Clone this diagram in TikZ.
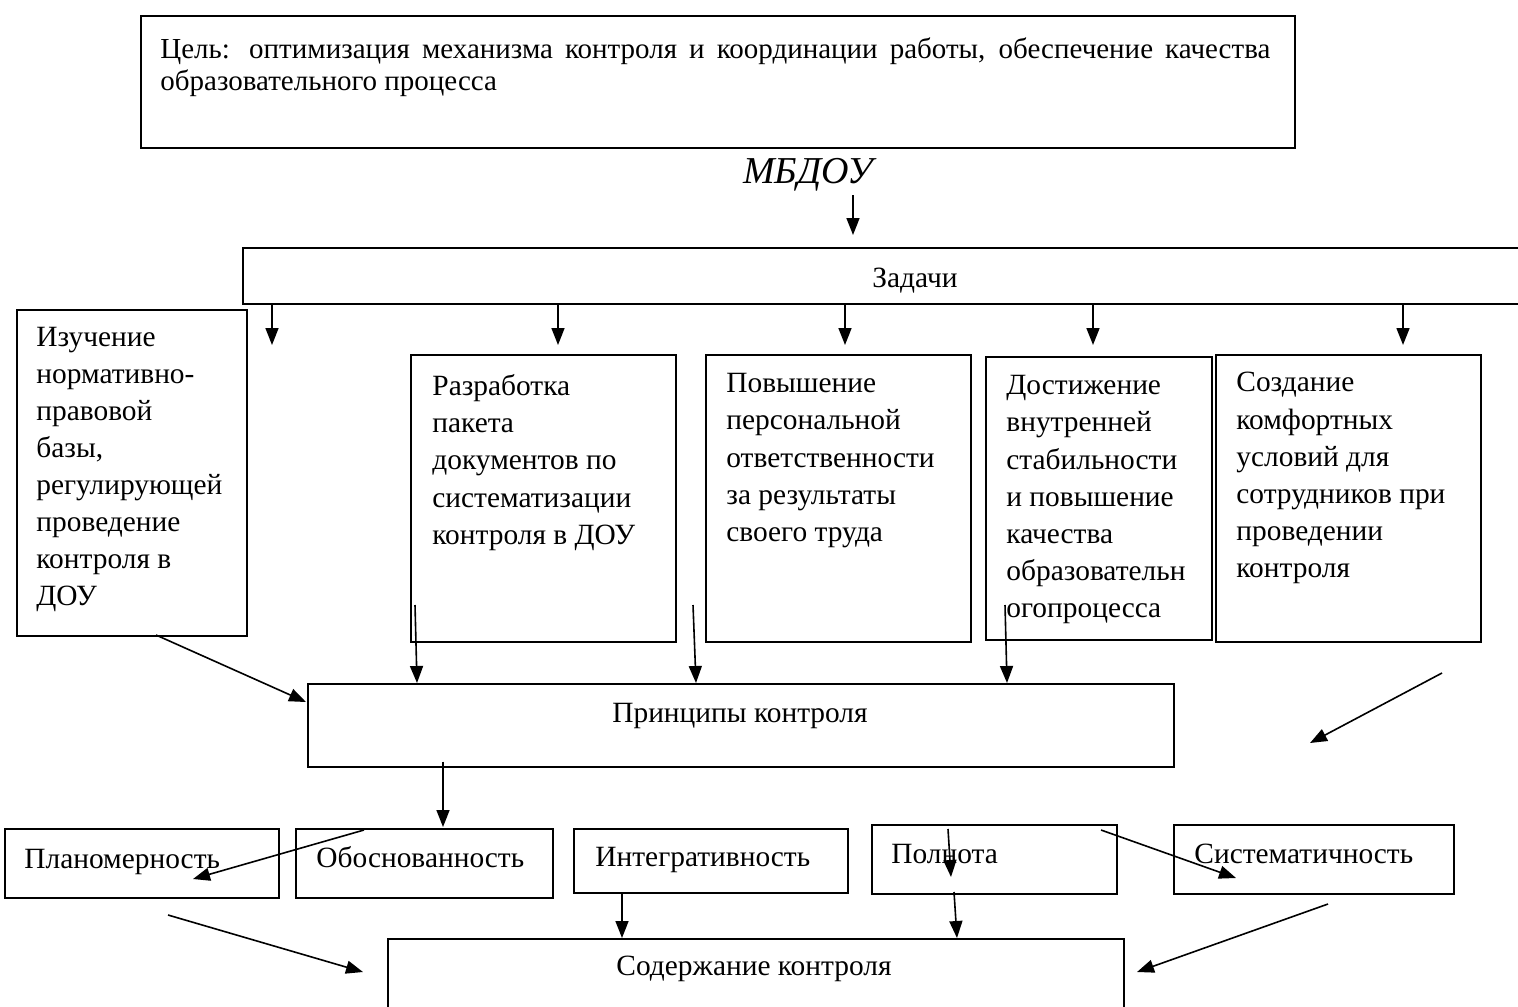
\documentclass[tikz,border=0pt]{standalone}
\usepackage{fontspec}
\setmainfont{Liberation Serif}
\usetikzlibrary{arrows.meta}
\newcommand\mybox[5]{\node[box,minimum width=#4*0.5pt,minimum height=#5*0.5pt] (#1) at (#2,#3) {};}
\begin{document}
\begin{tikzpicture}[x=0.5pt,y=-0.5pt,
  box/.style={draw,line width=0.8pt,inner sep=0pt,anchor=north west},
  txt/.style={inner sep=0pt,anchor=north west,align=left,font=\fontsize{14.7}{18.6}\selectfont},
  one/.style={inner sep=0pt,anchor=base west,font=\fontsize{14.7}{17}\selectfont},
  lbl/.style={inner sep=0pt,anchor=base,font=\fontsize{14.7}{17}\selectfont},
  arr/.style={line width=0.8pt,-{Triangle[length=8.5pt,width=6.5pt]}}]
\useasboundingbox (0,0) rectangle (1518,1006);
\clip (0,0) rectangle (1518,1006);
\fill[white] (0,0) rectangle (1518,1006);
% goal
\mybox{goal}{140}{15}{1154}{132}
\node[inner sep=0pt,anchor=north west,text width=555pt,align=justify,
  font=\fontsize{14.5}{16.3}\selectfont] (goalt) at (160,37)
  {Цель: оптимизация механизма контроля и координации работы, обеспечение качества образовательного процесса};
% MBDOU
\node[inner sep=0pt,anchor=base,font=\fontsize{19}{21}\selectfont\itshape] (mbdou) at (808,183) {МБДОУ};
\coordinate (m1) at (853,195);
\coordinate (m2) at (853,235);
\draw[arr] (m1) -- (m2);
% tasks
\mybox{zad}{242}{247}{1320}{56}
\node[lbl] (zadt) at (915,287) {Задачи};
\coordinate (a1) at (272,345);
\coordinate (a2) at (558,345);
\coordinate (a3) at (845,345);
\coordinate (a4) at (1093,345);
\coordinate (a5) at (1403,345);
\foreach \c in {a1,a2,a3,a4,a5} \draw[arr] (zad.south -| \c) -- (\c);
% task boxes
\mybox{izu}{16}{309}{230}{326}
\mybox{raz}{410}{354}{265}{287}
\mybox{pov}{705}{354}{265}{287}
\mybox{dos}{985}{356}{226}{283}
\mybox{soz}{1215}{354}{265}{287}
\node[txt,font=\fontsize{14.7}{18.5}\selectfont] (izut) at (36,327) {Изучение\\нормативно-\\правовой\\базы,\\регулирующей\\проведение\\контроля в\\ДОУ};
\node[txt] (razt) at (432,374) {Разработка\\пакета\\документов по\\систематизации\\контроля в ДОУ};
\node[txt] (povt) at (726,373) {Повышение\\персональной\\ответственности\\за результаты\\своего труда};
\node[txt] (dost) at (1006,375) {Достижение\\внутренней\\стабильности\\и повышение\\качества\\образовательн\\огопроцесса};
\node[txt] (sozt) at (1236,372) {Создание\\комфортных\\условий для\\сотрудников при\\проведении\\контроля};
% principles
\mybox{prin}{307}{683}{866}{83}
\node[lbl] (print) at (740,722) {Принципы контроля};
\coordinate (p1s) at (156,635);
\coordinate (p1e) at (306,702);
\coordinate (p2s) at (415,605);
\coordinate (p2e) at (417,683);
\coordinate (p3s) at (693,605);
\coordinate (p3e) at (696,683);
\coordinate (p4s) at (1005,605);
\coordinate (p4e) at (1007,683);
\coordinate (p5s) at (1442,673);
\coordinate (p5e) at (1310,743);
\draw[arr] (p1s) -- (p1e);
\draw[arr] (p2s) -- (p2e);
\draw[arr] (p3s) -- (p3e);
\draw[arr] (p4s) -- (p4e);
\draw[arr] (p5s) -- (p5e);
\coordinate (q1) at (443,827);
\draw[arr] (prin.south -| q1) ++(0,-6) -- (q1);
% bottom row
\mybox{plan}{4}{828}{274}{69}
\mybox{obos}{295}{828}{257}{69}
\mybox{integ}{573}{828}{274}{64}
\mybox{poln}{871}{824}{245}{69}
\mybox{sist}{1173}{824}{280}{69}
\node[one] (plant) at (24,868) {Планомерность};
\node[one] (obost) at (316,867) {Обоснованность};
\node[one] (integt) at (595,866) {Интегративность};
\node[one] (polnt) at (891,863) {Полнота};
\node[one] (sistt) at (1194,863) {Систематичность};
% content
\mybox{sod}{387}{938}{736}{120}
\node[lbl] (sodt) at (754,975) {Содержание контроля};
\coordinate (r1s) at (364,830);
\coordinate (r1e) at (193,879);
\coordinate (r2e) at (622,938);
\coordinate (r3s) at (948,829);
\coordinate (r3e) at (951,877);
\coordinate (r4s) at (954,892);
\coordinate (r4e) at (957,938);
\coordinate (r5s) at (1101,830);
\coordinate (r5e) at (1236,878);
\coordinate (r6s) at (168,915);
\coordinate (r6e) at (363,972);
\coordinate (r7s) at (1328,904);
\coordinate (r7e) at (1137,972);
\draw[arr] (r1s) -- (r1e);
\draw[arr] (integ.south -| r2e) -- (r2e);
\draw[arr] (r3s) -- (r3e);
\draw[arr] (r4s) -- (r4e);
\draw[arr] (r5s) -- (r5e);
\draw[arr] (r6s) -- (r6e);
\draw[arr] (r7s) -- (r7e);
\end{tikzpicture}
\end{document}
